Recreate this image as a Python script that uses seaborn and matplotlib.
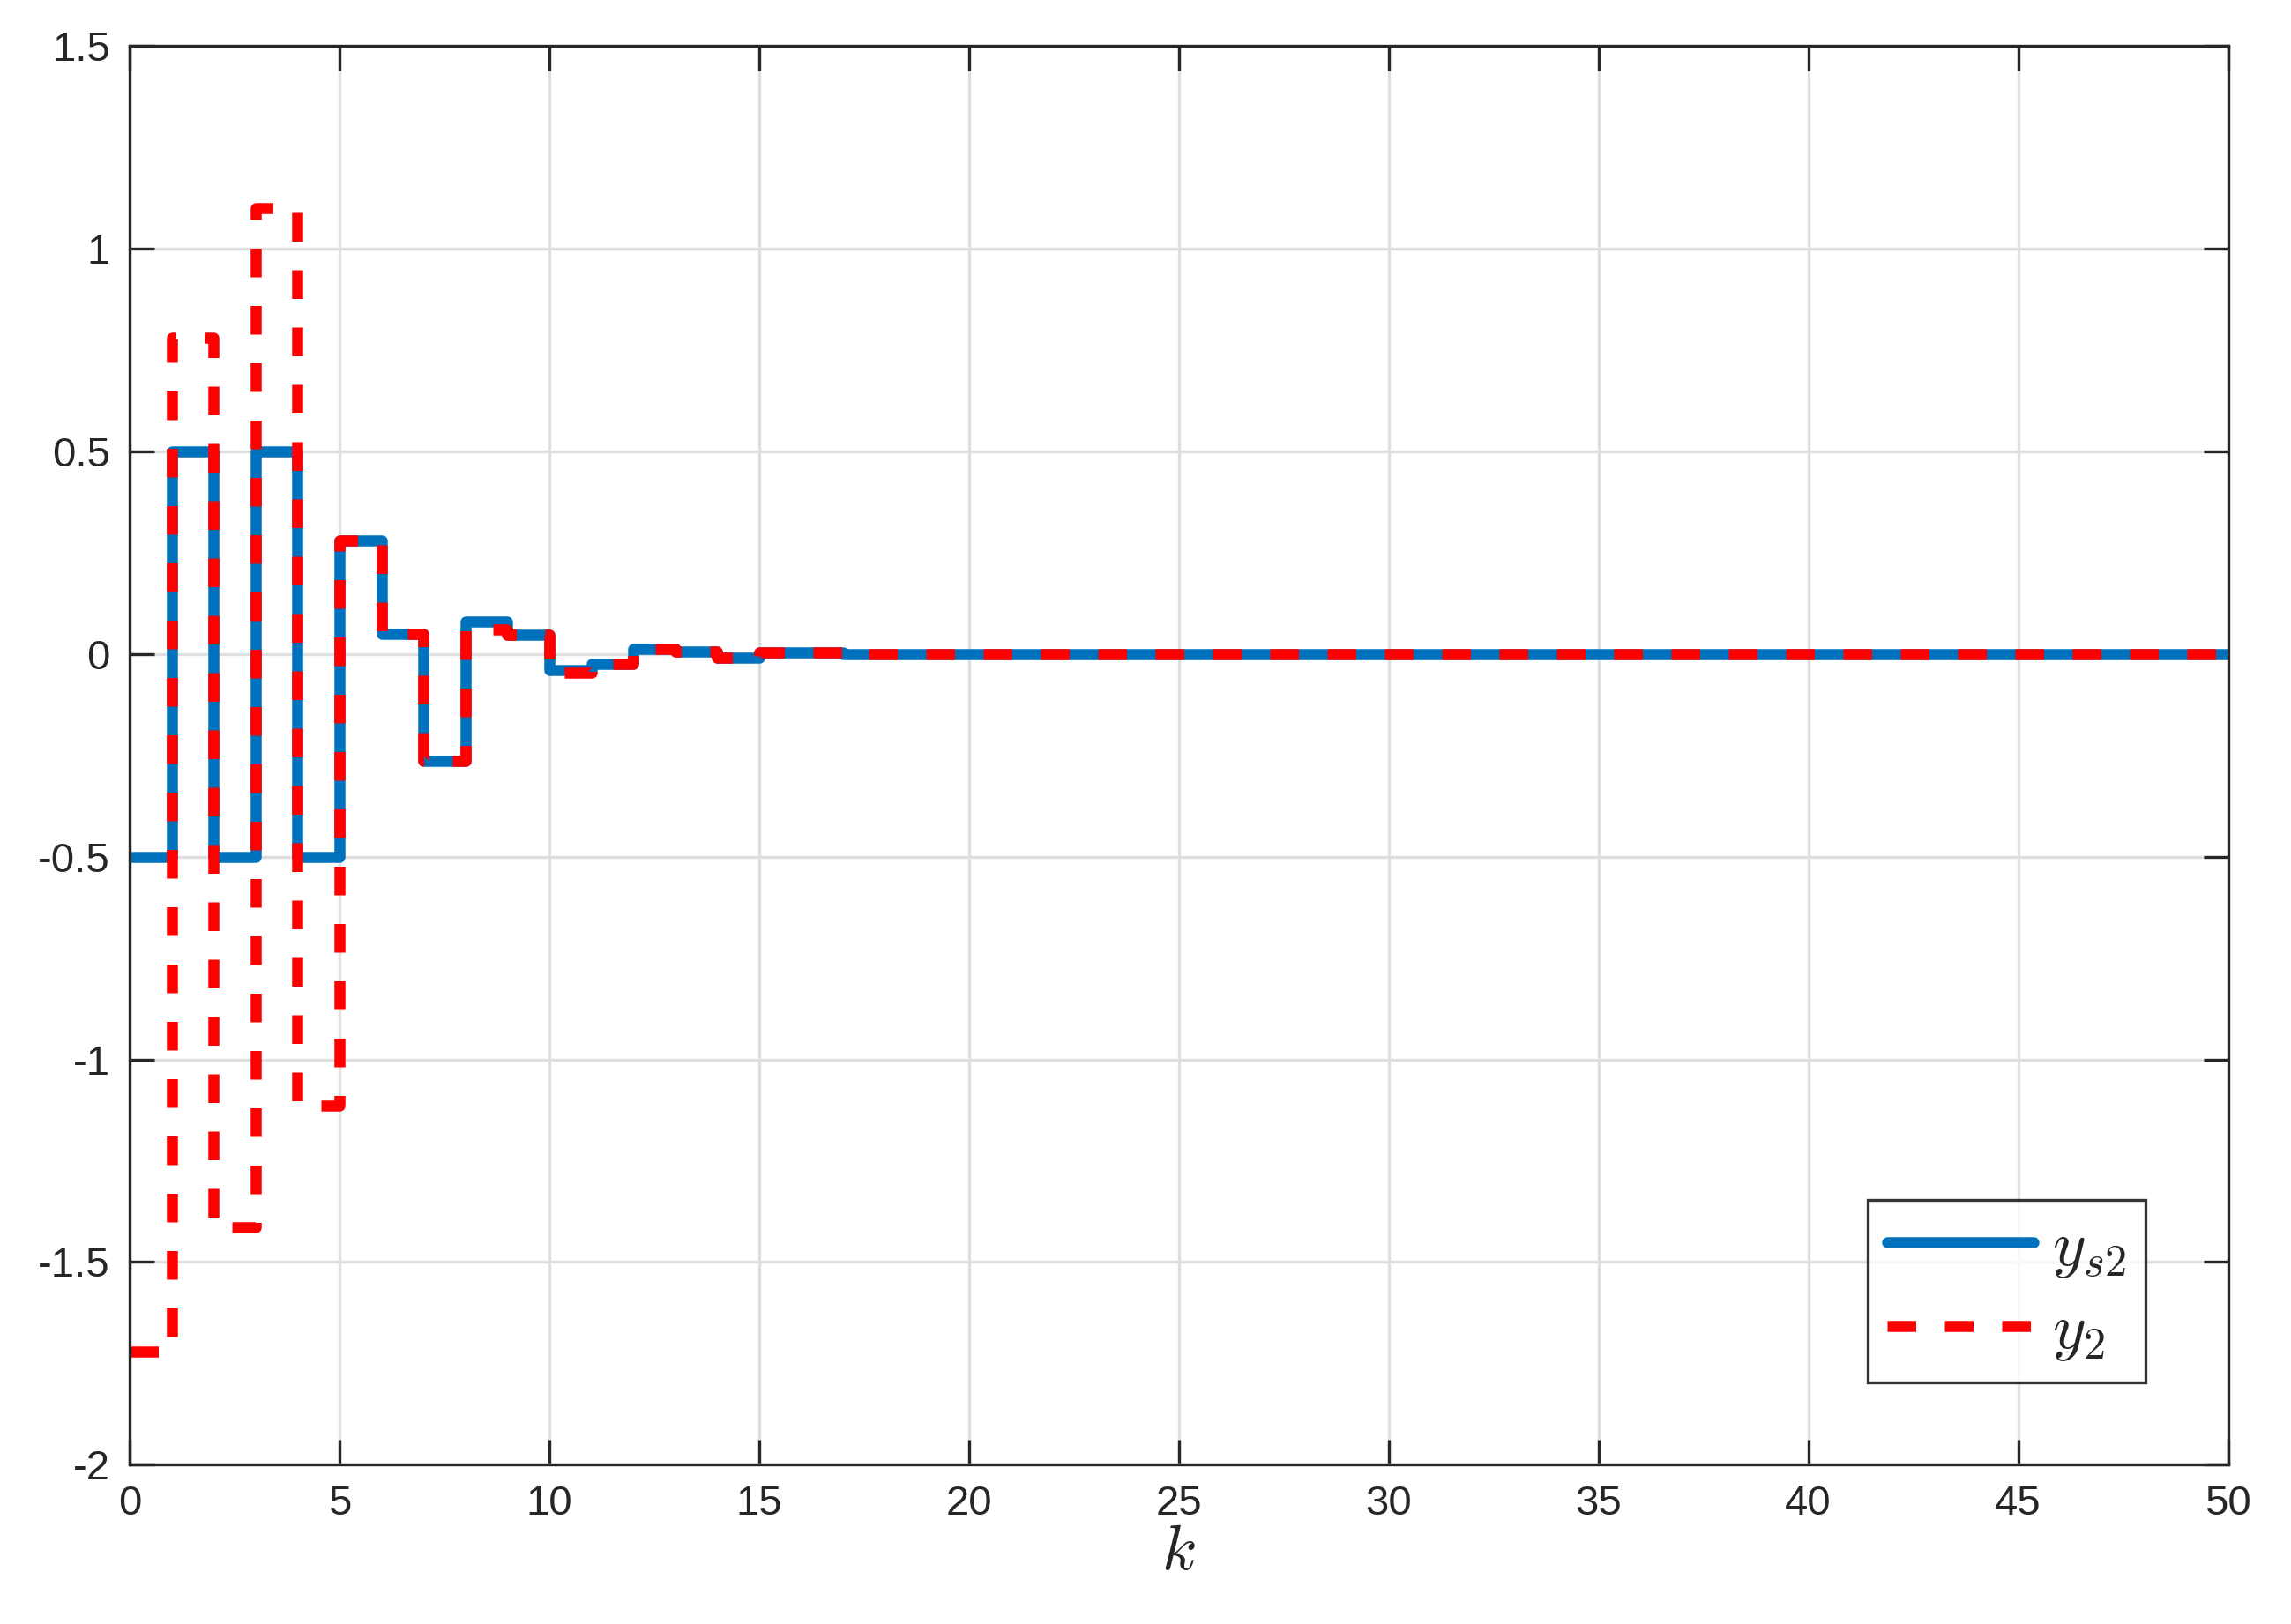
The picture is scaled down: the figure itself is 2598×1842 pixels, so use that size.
import numpy as np
import pandas as pd
import matplotlib
matplotlib.use("Agg")
import matplotlib.pyplot as plt
import seaborn as sns

# Values (steps after each k)
ys2_head = [-0.5, 0.5, -0.5, 0.5, -0.5, 0.28, 0.05, -0.265, 0.08, 0.046,
            -0.04, -0.025, 0.012, 0.005, -0.01, 0.003, 0.003, -0.002, 0.0, 0.0]
y2_head = [-1.72, 0.78, -1.415, 1.10, -1.115, 0.28, 0.05, -0.265, 0.06, 0.046,
           -0.046, -0.025, 0.012, 0.005, -0.01, 0.003, 0.003, -0.002, 0.0, 0.0]
k = np.arange(0, 51)
ys2 = ys2_head + [0.0] * (len(k) - len(ys2_head))
y2 = y2_head + [0.0] * (len(k) - len(y2_head))

df = pd.DataFrame({"k": k, "ys2": ys2, "y2": y2})

sns.set_style("white")
plt.rcParams["font.family"] = ["Liberation Sans", "DejaVu Sans"]
plt.rcParams["mathtext.fontset"] = "cm"

fig = plt.figure(figsize=(12.99, 9.21), dpi=200)
ax = fig.add_axes([0.0566, 0.098, 0.9725 - 0.0566, 0.972 - 0.098])

sns.lineplot(data=df, x="k", y="ys2", ax=ax, color="#0072BD", lw=4.5,
             drawstyle="steps-post", label=r"$y_{s2}$")
sns.lineplot(data=df, x="k", y="y2", ax=ax, color="#FF0000", lw=4.5,
             drawstyle="steps-post", label=r"$y_{2}$")
ax.lines[1].set_dashes([2.6, 2.6])

ax.set_xlim(0, 50)
ax.set_ylim(-2, 1.5)
ax.set_xticks(np.arange(0, 51, 5))
ax.set_yticks(np.arange(-2, 1.51, 0.5))
ax.set_yticklabels(["-2", "-1.5", "-1", "-0.5", "0", "0.5", "1", "1.5"])
ax.grid(True, color="#dfdfdf", lw=1.2)
ax.set_axisbelow(True)
ax.tick_params(direction="in", length=10, width=1.2, labelsize=17,
               top=True, right=True, bottom=True, left=True, colors="#262626",
               pad=8)
for s in ax.spines.values():
    s.set_color("#262626")
    s.set_linewidth(1.2)
ax.set_xlabel(r"$k$", fontsize=26, labelpad=0)
ax.set_ylabel("")

leg = ax.legend(loc="lower right", fontsize=26, frameon=True, fancybox=False,
                edgecolor="black", handlelength=2.3, borderaxespad=1.3,
                labelspacing=0.35, borderpad=0.3, handletextpad=0.3)
leg.get_frame().set_linewidth(1.2)

fig.savefig("out.png", dpi=200)
